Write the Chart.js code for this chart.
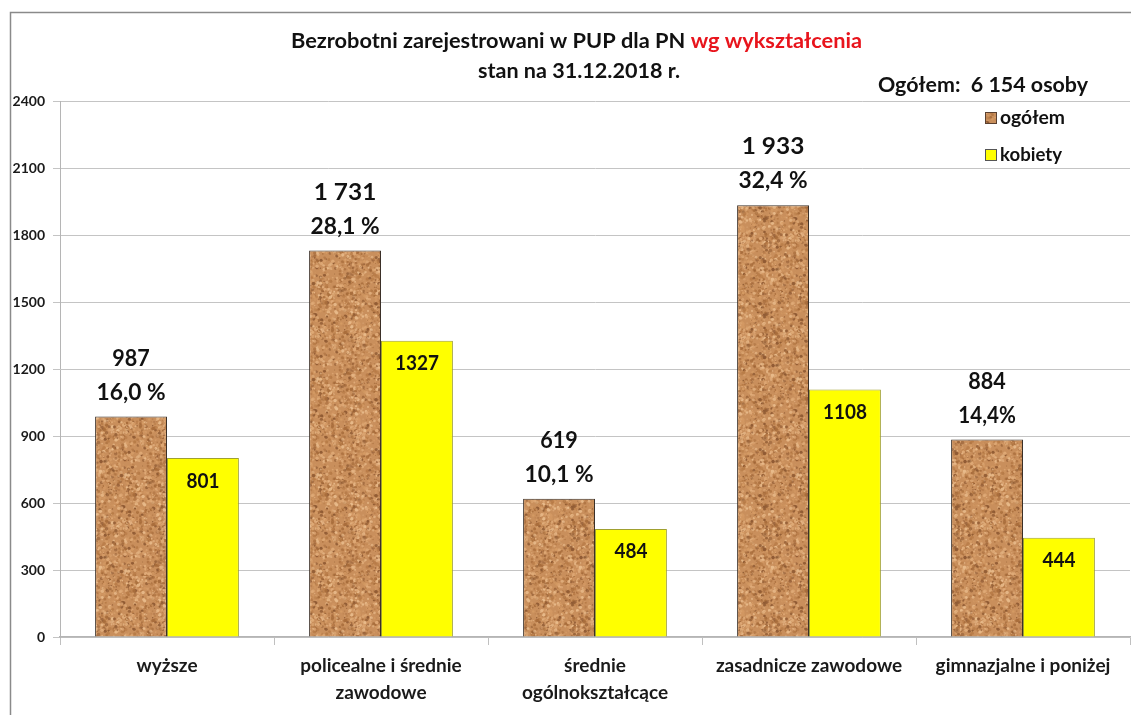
<!DOCTYPE html>
<html><head><meta charset="utf-8">
<script src="https://cdn.jsdelivr.net/npm/chart.js@4"></script>
<style>html,body{margin:0;padding:0;background:#fff;}#wrap{width:1131px;height:715px;position:relative;}</style>
</head><body><div id="wrap"><canvas id="c" width="1131" height="715"></canvas></div>
<script>
const categories = [['wyższe'], ['policealne i średnie','zawodowe'], ['średnie','ogólnokształcące'], ['zasadnicze zawodowe'], ['gimnazjalne i poniżej']];
const ogolem = [987, 1731, 619, 1933, 884];
const kobiety = [801, 1327, 484, 1108, 444];
const ogolemLabels = ['987', '1 731', '619', '1 933', '884'];
const percentLabels = ['16,0 %', '28,1 %', '10,1 %', '32,4 %', '14,4%'];
const kobietyLabels = ['801', '1327', '484', '1108', '444'];
const yTicks = [0, 300, 600, 900, 1200, 1500, 1800, 2100, 2400];
const seriesNames = ['ogółem', 'kobiety'];
const titleParts = ['Bezrobotni zarejestrowani w PUP dla PN ', 'wg wykształcenia'];
const subtitle = 'stan na 31.12.2018 r.';
const totalText = 'Ogółem:  6 154 osoby';

const FONT = 'Lato, "Open Sans", sans-serif';

// cork texture (deterministic)
function makeCork() {
  const cv = document.createElement('canvas');
  cv.width = 96; cv.height = 96;
  const g = cv.getContext('2d');
  g.fillStyle = '#c98f5c';
  g.fillRect(0, 0, 96, 96);
  let s = 12345;
  const rnd = () => { s = (s * 1103515245 + 12345) & 0x7fffffff; return s / 0x7fffffff; };
  const cols = ['#a86d3c', '#dfaa77', '#b87c48', '#e8ba8a', '#905b34', '#d49a64'];
  for (let i = 0; i < 1800; i++) {
    g.fillStyle = cols[Math.floor(rnd() * cols.length)];
    const x = rnd() * 96, y = rnd() * 96, r = 0.5 + rnd() * 1.3;
    g.globalAlpha = 0.5 + rnd() * 0.5;
    g.beginPath(); g.arc(x, y, r, 0, Math.PI * 2); g.fill();
  }
  g.globalAlpha = 1;
  return g.createPattern(cv, 'repeat');
}
const cork = makeCork();

function fitText(ctx, text, x, y, font, color, align, width) {
  ctx.save();
  ctx.font = font;
  ctx.fillStyle = color;
  ctx.textBaseline = 'middle';
  const w = ctx.measureText(text).width;
  const s = width ? width / w : 1;
  ctx.translate(x, y);
  ctx.scale(s, 1);
  ctx.textAlign = align;
  ctx.fillText(text, 0, 0);
  ctx.restore();
  return w * s;
}

const decor = {
  id: 'decor',
  beforeDraw(chart) {
    const ctx = chart.ctx;
    ctx.save();
    ctx.fillStyle = '#fff';
    ctx.fillRect(0, 0, chart.width, chart.height);
    ctx.strokeStyle = '#8a8a8a';
    ctx.lineWidth = 1.5;
    ctx.beginPath();
    ctx.moveTo(10.5, 715); ctx.lineTo(10.5, 12.5); ctx.lineTo(1131, 12.5);
    ctx.stroke();
    ctx.restore();
  },
  afterDraw(chart) {
    const ctx = chart.ctx;
    const f19 = 'bold 20px ' + FONT;
    ctx.save(); ctx.font = f19;
    const w1 = ctx.measureText(titleParts[0]).width, w2 = ctx.measureText(titleParts[1]).width;
    ctx.restore();
    const total = 571, sc = total / (w1 + w2);
    fitText(ctx, titleParts[0], 291, 42, f19, '#111', 'left', w1 * sc);
    fitText(ctx, titleParts[1], 291 + w1 * sc, 42, f19, '#e8141c', 'left', w2 * sc);
    fitText(ctx, subtitle, 579, 72, f19, '#111', 'center', 202);
    fitText(ctx, totalText, 983, 86, f19, '#111', 'center', 210);
    const ds = chart.data.datasets;
    const ly = [118, 155];
    const lw = [65, 62];
    for (let i = 0; i < 2; i++) {
      ctx.save();
      ctx.fillStyle = ds[i].backgroundColor;
      ctx.fillRect(985, ly[i] - 6, 12, 12);
      ctx.strokeStyle = i === 0 ? '#5a4030' : '#555';
      ctx.lineWidth = 1;
      ctx.strokeRect(985.5, ly[i] - 5.5, 11, 11);
      ctx.restore();
      fitText(ctx, seriesNames[i], 1000, ly[i], 'bold 18px ' + FONT, '#111', 'left', lw[i]);
    }
    const m0 = chart.getDatasetMeta(0), m1 = chart.getDatasetMeta(1);
    m0.data.forEach((b, i) => {
      fitText(ctx, ogolemLabels[i], b.x, b.y - 58, 'bold 22px ' + FONT, '#111', 'center', ogolemLabels[i].length * 12.5);
      fitText(ctx, percentLabels[i], b.x, b.y - 24, 'bold 22px ' + FONT, '#111', 'center', percentLabels[i].length * 11.5);
    });
    m1.data.forEach((b, i) => {
      fitText(ctx, kobietyLabels[i], b.x, b.y + 23, 'bold 20px ' + FONT, '#111', 'center', kobietyLabels[i].length * 11);
    });
  }
};

new Chart(document.getElementById('c'), {
  type: 'bar',
  data: {
    labels: categories,
    datasets: [
      { label: seriesNames[0], data: ogolem, backgroundColor: cork, borderColor: '#3b3028', borderWidth: 1, categoryPercentage: 0.672, barPercentage: 1 },
      { label: seriesNames[1], data: kobiety, backgroundColor: '#ffff00', borderColor: '#a0a030', borderWidth: 1, categoryPercentage: 0.672, barPercentage: 1 }
    ]
  },
  options: {
    responsive: false,
    animation: false,
    events: [],
    layout: { padding: { left: 0, right: 1, top: 101, bottom: 0 } },
    plugins: { legend: { display: false }, title: { display: false }, tooltip: { enabled: false } },
    scales: {
      x: {
        afterFit(s) { s.height = 78; },
        grid: { display: true, drawOnChartArea: false, offset: true, tickLength: 8, color: '#c0c0c0' },
        border: { color: '#b5b5b5', width: 1.5 },
        ticks: { font: { family: FONT, size: 19, weight: 'bold', lineHeight: 1.42 }, color: '#1a1a1a', padding: 7, maxRotation: 0, autoSkip: false }
      },
      y: {
        min: 0, max: 2400,
        afterFit(s) { s.width = 60; },
        afterBuildTicks(s) { s.ticks = yTicks.map(v => ({ value: v })); },
        grid: { color: '#c4c4c4', tickLength: 7, lineWidth: 1 },
        border: { color: '#b5b5b5', width: 1 },
        ticks: { font: { family: FONT, size: 14, weight: 'bold' }, color: '#1a1a1a', padding: 8, callback: (v) => String(v) }
      }
    }
  },
  plugins: [decor]
});
</script></body></html>
